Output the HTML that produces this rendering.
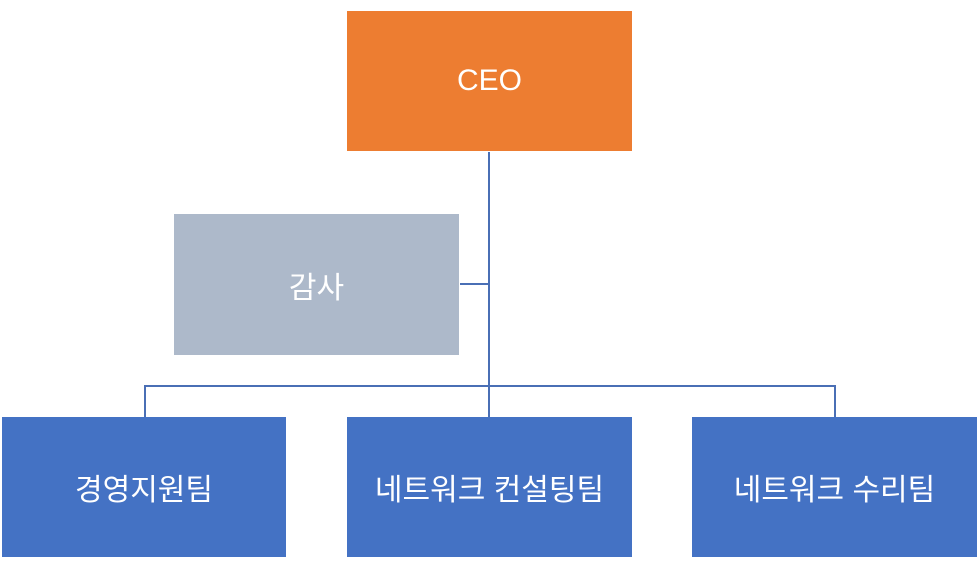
<!DOCTYPE html>
<html><head><meta charset="utf-8"><style>
body{margin:0;width:978px;height:569px;background:#fff;position:relative;overflow:hidden;font-family:"Liberation Sans","Noto Sans CJK KR",sans-serif;}
.b{position:absolute;display:flex;align-items:center;justify-content:center;color:#fff;font-size:30px;}
.l{position:absolute;background:#4a6fb5;}
</style></head><body>
<div class="b" style="left:347px;top:11px;width:285px;height:140px;background:#ED7D31">CEO</div>
<div class="b" style="left:174px;top:214px;width:285px;height:141px;background:#ADB9CA">감사</div>
<div class="b" style="left:2px;top:417px;width:284px;height:140px;background:#4472C4">경영지원팀</div>
<div class="b" style="left:347px;top:417px;width:285px;height:140px;background:#4472C4">네트워크 컨설팅팀</div>
<div class="b" style="left:692px;top:417px;width:285px;height:140px;background:#4472C4">네트워크 수리팀</div>
<div class="l" style="left:488px;top:152px;width:2px;height:265px"></div>
<div class="l" style="left:460px;top:283px;width:29px;height:1.5px"></div>
<div class="l" style="left:144px;top:385px;width:691px;height:1.5px"></div>
<div class="l" style="left:144px;top:385px;width:1.5px;height:32px"></div>
<div class="l" style="left:834px;top:385px;width:1.5px;height:32px"></div>
</body></html>
